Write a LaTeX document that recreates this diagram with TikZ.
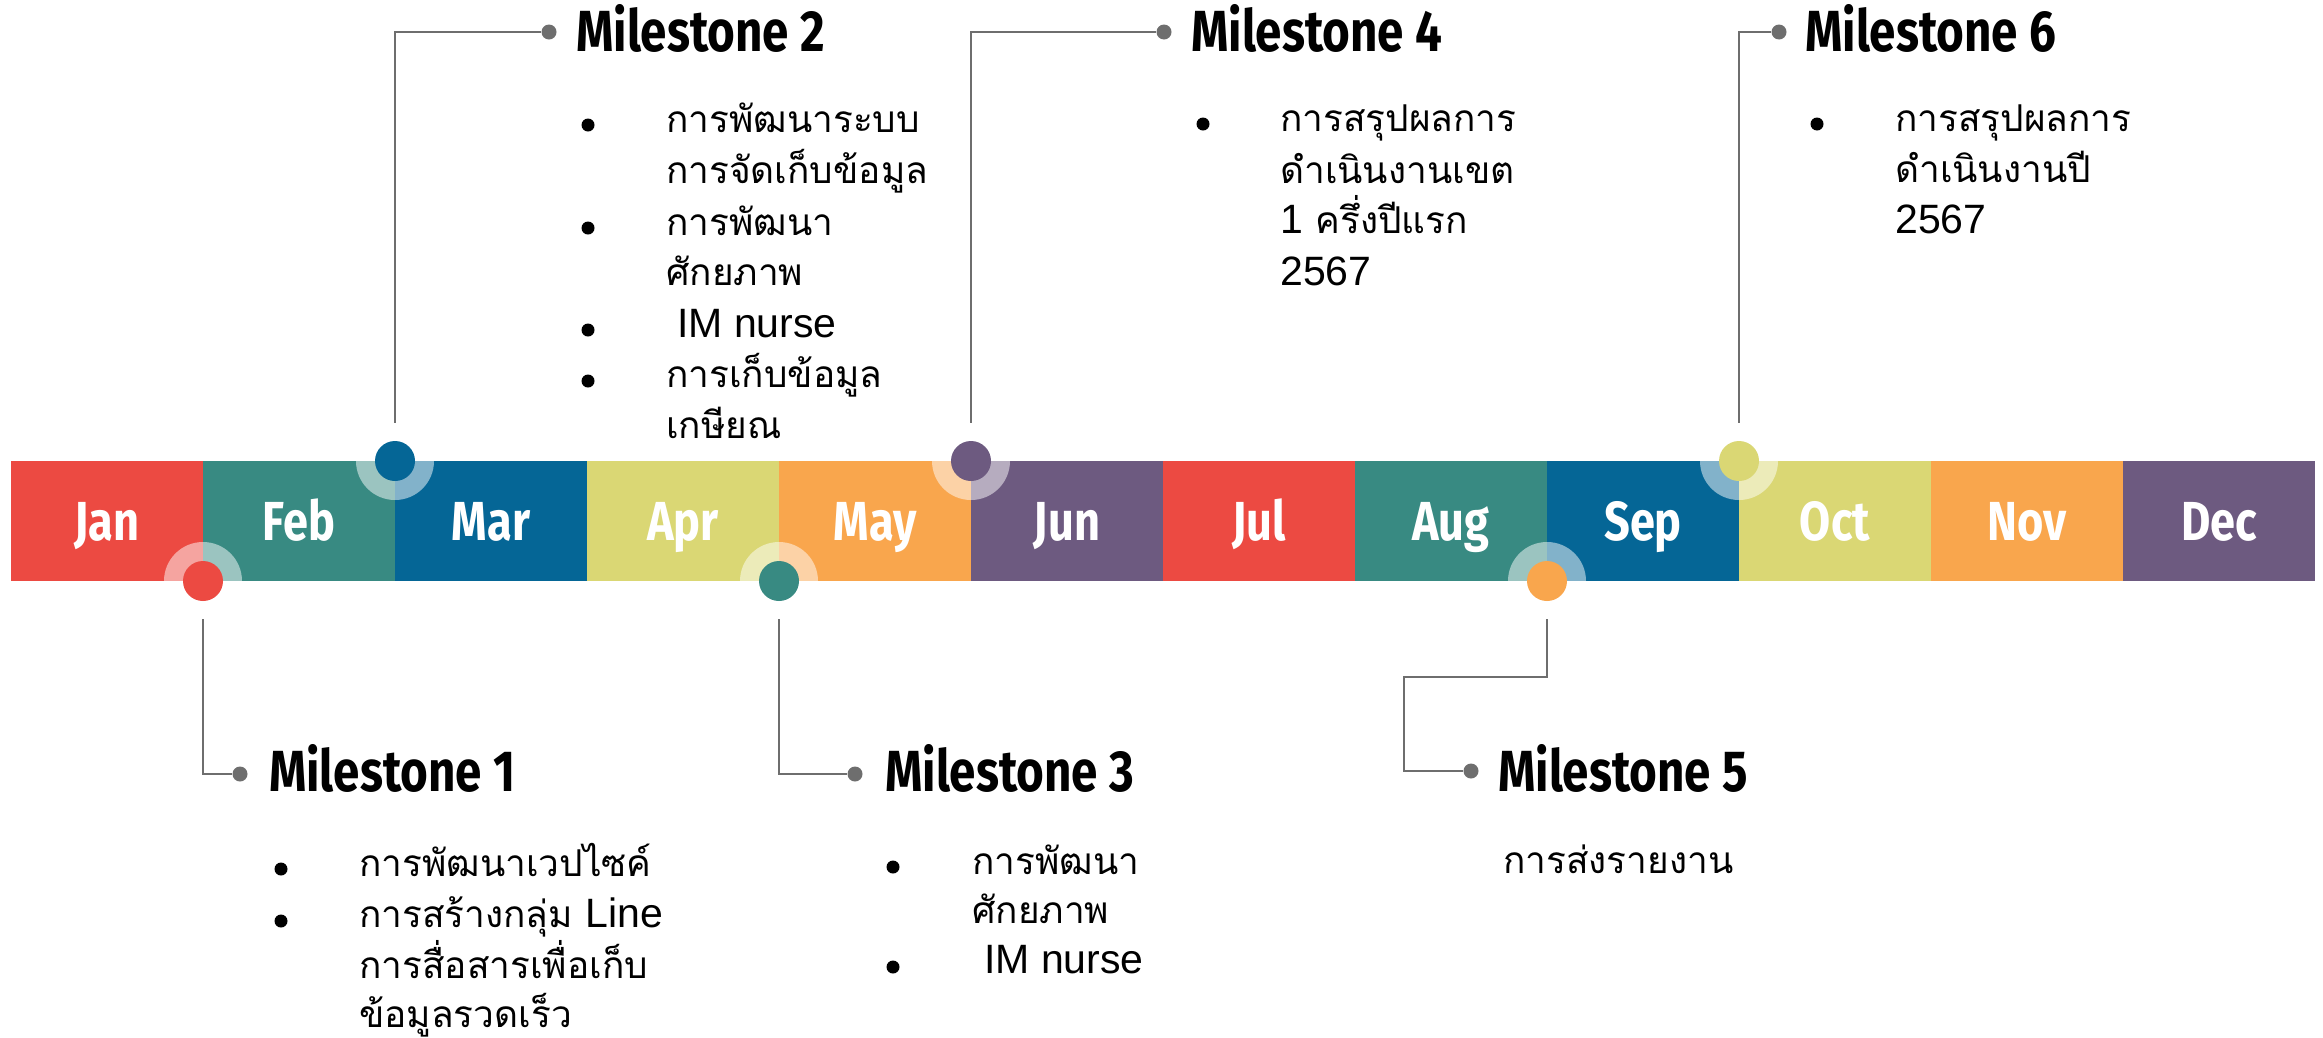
\documentclass[tikz,border=0pt]{standalone}
\usepackage{fontspec}
\newfontfamily\thaifont[Script=Thai]{Loma}
\newfontfamily\latfont{Liberation Sans}
\newfontfamily\headfont[FakeStretch=0.82]{Fira Sans}
\newcommand\lat[1]{{\latfont\fontsize{41}{50}\selectfont #1}}
\definecolor{cRed}{RGB}{236,74,66}
\definecolor{cTeal}{RGB}{56,138,130}
\definecolor{cBlue}{RGB}{5,102,150}
\definecolor{cYel}{RGB}{218,215,116}
\definecolor{cOra}{RGB}{249,166,77}
\definecolor{cPur}{RGB}{109,90,128}
\definecolor{lineGray}{RGB}{110,110,110}
\tikzset{
  conn/.style={draw=lineGray, line width=2.5pt},
  tdot/.style={circle, fill=lineGray, inner sep=0pt, minimum size=15pt},
  mcirc/.style={circle, inner sep=0pt, minimum size=40pt},
  halo/.style={circle, fill=white, fill opacity=0.5, inner sep=0pt, minimum size=78pt},
  mtitle/.style={anchor=base west, inner sep=0pt, font=\headfont\bfseries\fontsize{58}{60}\selectfont},
  body/.style={anchor=base west, inner sep=0pt, font=\thaifont\fontsize{37}{50}\selectfont},
  bul/.style={circle, fill=black, inner sep=0pt, minimum size=13pt},
  mlabel/.style={anchor=base, inner sep=0pt, text=white, font=\headfont\bfseries\fontsize{55}{60}\selectfont},
}
\begin{document}
\begin{tikzpicture}[x=1pt,y=-1pt]
\useasboundingbox (0,0) rectangle (2323,1037);
\fill[white] (0,0) rectangle (2323,1037);
% month bar
\foreach \c [count=\i from 0] in {cRed,cTeal,cBlue,cYel,cOra,cPur,cRed,cTeal,cBlue,cYel,cOra,cPur}
  {\fill[\c] (11+192*\i,461) rectangle ++(192,120);}
\foreach \m [count=\i from 0] in {Jan,Feb,Mar,Apr,May,Jun,Jul,Aug,Sep,Oct,Nov,Dec}
  {\node[mlabel] (mon\i) at (107+192*\i,540) {\m};}
% milestone markers
\node[halo] (h1) at (203,581) {};
\node[halo] (h2) at (395,461) {};
\node[halo] (h3) at (779,581) {};
\node[halo] (h4) at (971,461) {};
\node[halo] (h5) at (1547,581) {};
\node[halo] (h6) at (1739,461) {};
\node[mcirc, fill=cRed]  (c1) at (203,581) {};
\node[mcirc, fill=cBlue] (c2) at (395,461) {};
\node[mcirc, fill=cTeal] (c3) at (779,581) {};
\node[mcirc, fill=cPur]  (c4) at (971,461) {};
\node[mcirc, fill=cOra]  (c5) at (1547,581) {};
\node[mcirc, fill=cYel]  (c6) at (1739,461) {};
% title dots
\node[tdot] (d1) at (240,774) {};
\node[tdot] (d2) at (549,32) {};
\node[tdot] (d3) at (855,774) {};
\node[tdot] (d4) at (1164,32) {};
\node[tdot] (d5) at (1471,771) {};
\node[tdot] (d6) at (1779,32) {};
% connectors
\draw[conn] ([yshift=-18pt]c1.south) |- (d1);
\draw[conn] ([yshift=18pt]c2.north) |- (d2);
\draw[conn] ([yshift=-18pt]c3.south) |- (d3);
\draw[conn] ([yshift=18pt]c4.north) |- (d4);
\draw[conn] ([yshift=-18pt]c5.south) -- ++(0,58) -- ++(-143,0) |- (d5);
\draw[conn] ([yshift=18pt]c6.north) |- (d6);
% titles
\node[mtitle] (t1) at (269,791) {Milestone 1};
\node[mtitle] (t2) at (576,51) {Milestone 2};
\node[mtitle] (t3) at (885,791) {Milestone 3};
\node[mtitle] (t4) at (1191,51) {Milestone 4};
\node[mtitle] (t5) at (1498,791) {Milestone 5};
\node[mtitle] (t6) at (1805,51) {Milestone 6};
% Milestone 1 body
\node[bul] (b1a) at (281,869) {};
\node[bul] (b1b) at (281,921) {};
\node[body] (l1a) at (359,876) {การพัฒนาเวปไซค์};
\node[body] (l1b) at (359,927) {การสร้างกลุ่ม \lat{Line}};
\node[body] (l1c) at (359,978) {การสื่อสารเพื่อเก็บ};
\node[body] (l1d) at (359,1027) {ข้อมูลรวดเร็ว};
% Milestone 2 body
\node[bul] (b2a) at (588,125) {};
\node[bul] (b2b) at (588,228) {};
\node[bul] (b2c) at (588,330) {};
\node[bul] (b2d) at (588,381) {};
\node[body] (l2a) at (666,132) {การพัฒนาระบบ};
\node[body] (l2b) at (666,183) {การจัดเก็บข้อมูล};
\node[body] (l2c) at (666,235) {การพัฒนา};
\node[body] (l2d) at (666,285) {ศักยภาพ};
\node[body] (l2e) at (677,337) {\lat{IM nurse}};
\node[body] (l2f) at (666,387) {การเก็บข้อมูล};
\node[body] (l2g) at (666,438) {เกษียณ};
% Milestone 3 body
\node[bul] (b3a) at (893,867) {};
\node[bul] (b3b) at (893,967) {};
\node[body] (l3a) at (972,874) {การพัฒนา};
\node[body] (l3b) at (972,923) {ศักยภาพ};
\node[body] (l3c) at (984,973) {\lat{IM nurse}};
% Milestone 4 body
\node[bul] (b4a) at (1203,124) {};
\node[body] (l4a) at (1280,131) {การสรุปผลการ};
\node[body] (l4b) at (1280,183) {ดำเนินงานเขต};
\node[body] (l4c) at (1280,233) {\lat{1} ครึ่งปีแรก};
\node[body] (l4d) at (1280,285) {\lat{2567}};
% Milestone 5 body
\node[body] (l5a) at (1503,873) {การส่งรายงาน};
% Milestone 6 body
\node[bul] (b6a) at (1817,124) {};
\node[body] (l6a) at (1895,131) {การสรุปผลการ};
\node[body] (l6b) at (1895,182) {ดำเนินงานปี};
\node[body] (l6c) at (1895,233) {\lat{2567}};
\end{tikzpicture}
\end{document}
